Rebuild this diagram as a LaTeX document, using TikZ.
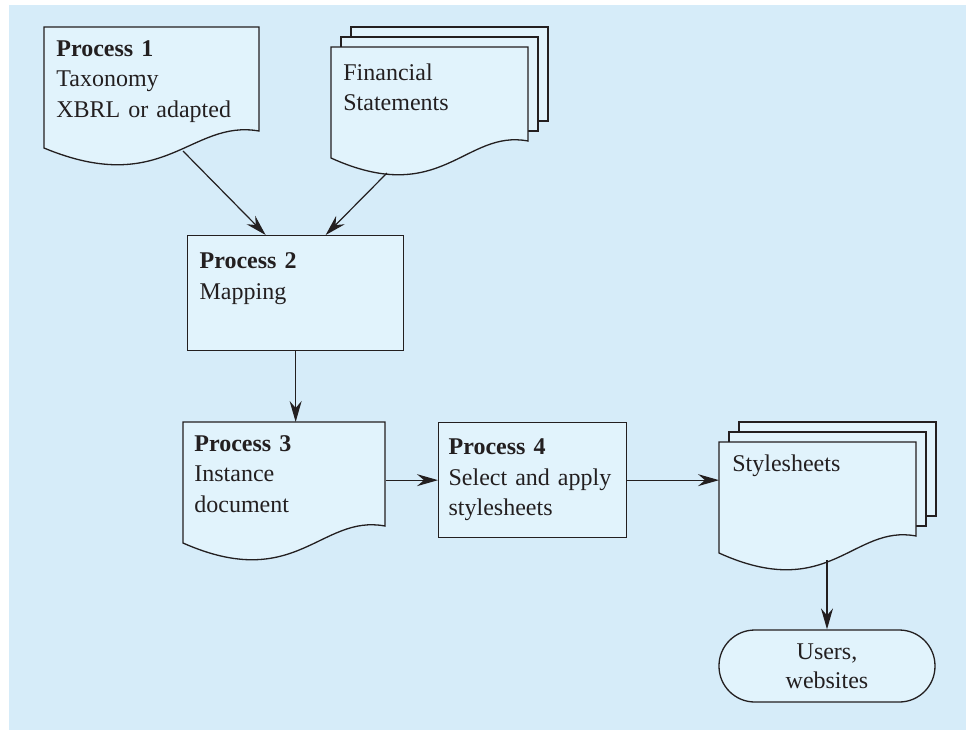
\documentclass[tikz,border=0pt]{standalone}
\usepackage{amsmath, amssymb}
\usepackage{fontspec}
\setmainfont{Liberation Serif}
\usepackage{tikz}
\usetikzlibrary{arrows.meta}

\definecolor{panelblue}{RGB}{214,236,249}
\definecolor{sheetblue}{RGB}{225,243,252}
\definecolor{ink}{RGB}{35,31,32}

\tikzset{
  outline/.style={draw=ink, fill=sheetblue, line width=0.65pt},
  txt/.style={anchor=north west, inner xsep=6pt, inner ysep=6.5pt, align=left, text=ink, font=\fontsize{12}{15.25}\selectfont},
  procbox/.style={outline, txt, inner xsep=6pt},
  flow/.style={draw=ink, line width=0.6pt, -{Stealth[length=10.5pt, width=6pt, inset=3.5pt]}}
}

\newcommand{\docshape}[4]{%
  \filldraw[outline] (#1,#2) -- ++(#3,0) -- ++(0,#4)
    .. controls +({-0.32*#3},-12) and +({0.56*#3},50) .. (#1,{#2+#4+17}) -- cycle;
}

\begin{document}
\begin{tikzpicture}[x=0.5pt, y=-0.5pt]
                \useasboundingbox (0,0) rectangle (966,730);
                \fill[panelblue] (9,5) rectangle (966,730);
                \docshape{44}{27}{215}{104}
                \foreach \d in {20,10}
                    \filldraw[outline] (331+\d,47-\d) rectangle (528+\d,141-\d);
                \docshape{331}{47}{197}{94}
                \docshape{183}{422}{202}{104}
                \foreach \d in {20,10}
                    \filldraw[outline] (719+\d,442-\d) rectangle (916+\d,536-\d);
                \docshape{719}{442}{197}{94}
                \node[txt, text width=95.5pt] (p1) at (44,27) {\textbf{Process 1}\\Taxonomy\\XBRL or adapted};
                \node[txt, text width=86.5pt, inner ysep=8pt] (fs) at (331,47) {Financial\\Statements};
                \node[procbox, text width=96pt, inner ysep=9pt, text height=7.5pt, text depth=32pt] (p2) at (187,235) {\textbf{Process 2}\\Mapping};
                \node[txt, text width=90pt, inner xsep=5.5pt] (p3) at (183,422) {\textbf{Process 3}\\Instance\\document};
                \node[procbox, text width=84pt, inner xsep=5pt, inner ysep=0pt, minimum height=57.5pt] (p4) at (438,422) {\textbf{Process 4}\\Select and apply\\stylesheets};
                \node[txt, text width=85.5pt, inner xsep=6.5pt, inner ysep=6pt] (ss) at (719,442) {Stylesheets};
                \node[outline, rounded corners=17.9pt, minimum width=108pt, minimum height=36pt, align=center, text=ink, font=\fontsize{12}{14.5}\selectfont] (users) at (827,666) {Users,\\websites};
                \coordinate (p1out) at (183,151);
                \coordinate (fsout) at (387,173);
                \coordinate (ssout) at (827,560);
                \draw[flow] (p1out) -- ([xshift=-15pt]p2.north);
                \draw[flow] (fsout) -- ([xshift=15pt]p2.north);
                \draw[flow] (p2.south) -- (p2.south |- p3.north);
                \draw[flow] (p4.west -| p3.east) -- (p4.west);
                \draw[flow] (p4.east) -- (p4.east -| ss.west);
                \draw[flow] (ssout) -- (users);
            \end{tikzpicture}
\end{document}
